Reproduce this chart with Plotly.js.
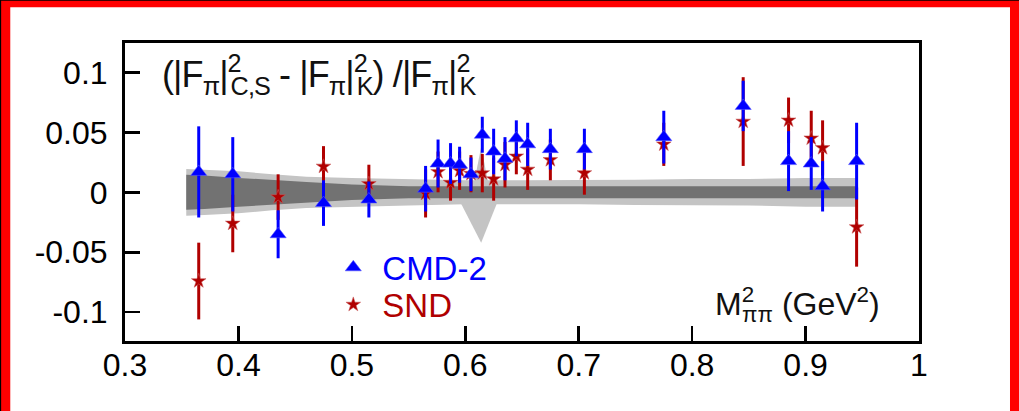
<!DOCTYPE html>
<html><head><meta charset="utf-8">
<script src="https://cdn.plot.ly/plotly-3.0.1.min.js"></script>
<style>html,body{margin:0;padding:0;background:#fff;overflow:hidden}#chart{width:1019px;height:411px}</style>
</head><body><div id="chart"></div>
<script>
// ---- data ----
const cmdX   = [0.365,0.395,0.435,0.475,0.515,0.565,0.576,0.587,0.595,0.605,0.615,0.625,0.635,0.645,0.655,0.675,0.705,0.775,0.845,0.885,0.905,0.915,0.945];
const cmdY   = [0.017,0.015,-0.035,-0.009,-0.006,0.003,0.024,0.024,0.023,0.015,0.048,0.034,0.028,0.045,0.040,0.036,0.036,0.046,0.072,0.026,0.024,0.005,0.026];
const cmdErr = [0.038,0.031,0.020,0.019,0.015,0.019,0.020,0.017,0.015,0.014,0.015,0.019,0.018,0.015,0.018,0.017,0.017,0.022,0.021,0.025,0.022,0.021,0.032];

const sndX   = [0.365,0.395,0.435,0.475,0.515,0.565,0.576,0.587,0.595,0.605,0.615,0.625,0.635,0.645,0.655,0.675,0.705,0.775,0.845,0.885,0.905,0.915,0.945];
const sndY   = [-0.074,-0.026,-0.004,0.0215,0.007,-0.001,0.017,0.008,0.018,0.0155,0.016,0.011,0.023,0.030,0.019,0.027,0.016,0.040,0.059,0.060,0.045,0.037,-0.029];
const sndErr = [0.032,0.024,0.019,0.017,0.016,0.020,0.017,0.015,0.016,0.0155,0.016,0.018,0.019,0.015,0.017,0.017,0.018,0.018,0.037,0.019,0.023,0.023,0.033];

// uncertainty band (half widths about zero)
const bandX     = [0.354,0.37,0.40,0.43,0.46,0.50,0.55,0.60,0.65,0.70,0.75,0.80,0.85,0.90,0.945];
const bandOuter = [0.0195,0.019,0.0175,0.015,0.013,0.012,0.011,0.010,0.010,0.010,0.0105,0.011,0.011,0.012,0.012];
const bandInner = [0.0146,0.014,0.012,0.010,0.0085,0.0065,0.005,0.005,0.005,0.005,0.005,0.005,0.005,0.005,0.005];
const spikeLowX = [0.596,0.614,0.628];
const spikeLowY = [-0.009,-0.042,-0.009];
const spikeUpX  = [0.608,0.614,0.620];
const spikeUpY  = [0.009,0.038,0.009];

const xTickVals = [0.3,0.4,0.5,0.6,0.7,0.8,0.9,1.0];
const xTickText = ['0.3','0.4','0.5','0.6','0.7','0.8','0.9','1'];
const yTickVals = [0.1,0.05,0,-0.05,-0.1];
const yTickText = ['0.1','0.05','0','-0.05','-0.1'];

// ---- build ----
function bandPoly(xs, half){
  return {x: xs.concat(xs.slice().reverse()),
          y: half.concat(half.slice().reverse().map(h => -h))};
}
const outer = bandPoly(bandX, bandOuter);
const inner = bandPoly(bandX, bandInner);
const LIGHT = '#c4c4c4', DARK = '#727272';
const FONT = 'Liberation Sans, Arial, sans-serif';
const NARROW = 'Liberation Sans Narrow, Arial Narrow, Liberation Sans, sans-serif';

const fillTrace = (x, y, c) => ({type:'scatter', mode:'lines', x, y, fill:'toself', fillcolor:c,
  line:{width:0, color:c}, hoverinfo:'skip', showlegend:false});

const traces = [
  fillTrace(outer.x, outer.y, LIGHT),
  fillTrace(spikeLowX, spikeLowY, LIGHT),
  fillTrace(spikeUpX, spikeUpY, LIGHT),
  fillTrace(inner.x, inner.y, DARK),
  {type:'scatter', mode:'markers', name:'SND', legend:'legend2', x:sndX, y:sndY,
   marker:{symbol:'star', size:11, color:'#b00000', line:{color:'rgba(200,90,90,0.55)', width:1}},
   error_y:{type:'data', array:sndErr, visible:true, color:'#b00000', thickness:3, width:0}},
  {type:'scatter', mode:'markers', name:'CMD-2', legend:'legend', x:cmdX, y:cmdY,
   marker:{symbol:'triangle-up', size:14, color:'#0000ff', line:{color:'rgba(90,90,255,0.55)', width:1}},
   error_y:{type:'data', array:cmdErr, visible:true, color:'#0000ff', thickness:3, width:0}}
];

const axisCommon = {ticks:'inside', ticklen:15, tickwidth:2.5, tickcolor:'#000',
  showline:true, linewidth:3, linecolor:'#000', mirror:true, showgrid:false, zeroline:false,
  tickfont:{family:FONT, size:32, color:'#000'}, tickmode:'array'};

const S = '<span style="letter-spacing:-11px">2</span>';
const S2 = '<span style="letter-spacing:-12px">2</span>';
const layout = {
  width:1019, height:411,
  margin:{l:125, r:100, t:43, b:70},
  paper_bgcolor:'#fff', plot_bgcolor:'#fff',
  xaxis:Object.assign({}, axisCommon, {range:[0.3,1.0], tickvals:xTickVals, ticktext:xTickText, ticklabelstandoff:-6}),
  yaxis:Object.assign({}, axisCommon, {range:[-0.124,0.1245], tickvals:yTickVals, ticktext:yTickText, ticklabelstandoff:8}),
  legend:{x:0.251, y:0.247, xanchor:'left', yanchor:'middle', bgcolor:'rgba(0,0,0,0)',
          itemwidth:48, font:{family:FONT, size:33, color:'#0000ff'}},
  legend2:{x:0.251, y:0.122, xanchor:'left', yanchor:'middle', bgcolor:'rgba(0,0,0,0)',
          itemwidth:48, font:{family:FONT, size:33, color:'#b00000'}},
  annotations:[
    {xref:'paper', yref:'paper', x:0.044, y:0.895, xanchor:'left', yanchor:'middle', showarrow:false,
     font:{family:NARROW, size:36, color:'#111'},
     text:'<span style="letter-spacing:-0.9px">(|F<sub>π</sub>|<sup>'+S+'</sup><sub>C,S</sub> - |F<sub>π</sub>|<sup>'+S+'</sup><sub>K</sub>) /|F<sub>π</sub>|<sup>'+S+'</sup><sub>K</sub></span>'},
    {xref:'paper', yref:'paper', x:0.9534, y:0.122, xanchor:'right', yanchor:'middle', showarrow:false,
     font:{family:FONT, size:32, color:'#111'},
     text:'M<sup>'+S2+'</sup><sub>ππ</sub> (GeV<sup>2</sup>)'}
  ],
  shapes:[
    {type:'rect', xref:'paper', yref:'paper', x0:-0.16, x1:1.13, y0:1.12, y1:1.15, fillcolor:'#ff0000', line:{width:0}, layer:'above'},
    {type:'rect', xref:'paper', yref:'paper', x0:-0.16, x1:-0.1445, y0:-0.24, y1:1.15, fillcolor:'#ff0000', line:{width:0}, layer:'above'},
    {type:'rect', xref:'paper', yref:'paper', x0:1.1146, x1:1.13, y0:-0.24, y1:1.15, fillcolor:'#ff0000', line:{width:0}, layer:'above'},
    {type:'rect', xref:'paper', yref:'paper', x0:-0.16, x1:1.13, y0:1.142, y1:1.15, fillcolor:'#000', line:{width:0}, layer:'above'},
    {type:'rect', xref:'paper', yref:'paper', x0:-0.16, x1:-0.156, y0:-0.24, y1:1.15, fillcolor:'#000', line:{width:0}, layer:'above'}
  ]
};
Plotly.newPlot('chart', traces, layout, {displayModeBar:false, staticPlot:true});
</script></body></html>
